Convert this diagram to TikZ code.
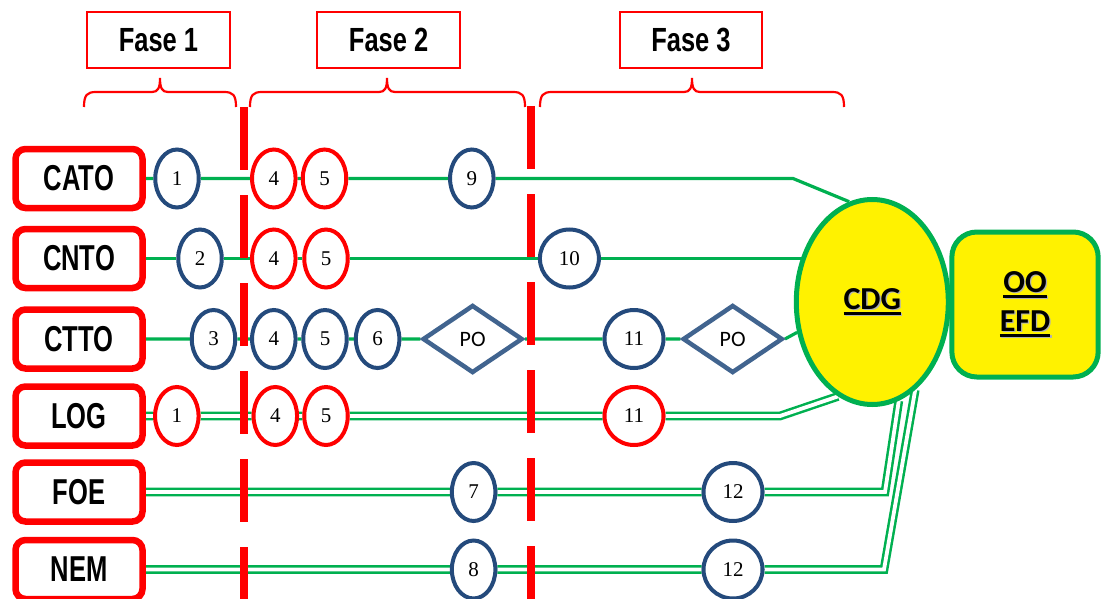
\documentclass[tikz,border=0pt]{standalone}
\usepackage{fontspec}
\setmainfont{Liberation Serif}
\newfontfamily\boxfont[FakeStretch=0.71]{Liberation Sans}
\newfontfamily\fasefont[FakeStretch=0.76]{Liberation Sans}
\newfontfamily\calib{Carlito}
\usetikzlibrary{shapes.geometric}
\pgfdeclarelayer{background}
\pgfsetlayers{background,main}
\definecolor{gr}{HTML}{00B050}
\definecolor{nv}{HTML}{244A7C}
\definecolor{dm}{HTML}{41648F}
\newcommand\myul[1]{\setbox0\hbox{#1}%
  \rlap{\hspace{1.3pt}\textcolor{black!30}{\rule[-6.8pt]{\wd0}{2.7pt}}}%
  \rlap{\raisebox{-1.3pt}{\hspace{1.3pt}\textcolor{black!30}{#1}}}%
  \rlap{\rule[-5.5pt]{\wd0}{2.7pt}}\box0}
\newcommand\phasebrace[3]{%
  \draw[brc] (#1,107) .. controls (#1,95) and ({#1+3},92) .. ({#1+12},92)
    -- ({#2-8},92) .. controls ({#2-2},92) and (#2,88) .. (#2,78)
    .. controls (#2,88) and ({#2+2},92) .. ({#2+8},92)
    -- ({#3-12},92) .. controls ({#3-3},92) and (#3,95) .. (#3,107);}
\begin{document}
\begin{tikzpicture}[x=1pt,y=-1pt,
  lbox/.style={draw=red, line width=6.5pt, rounded corners=10pt, fill=white,
    minimum width=127pt, minimum height=59pt, inner sep=0pt,
    font=\boxfont\bfseries\fontsize{36}{40}\selectfont},
  cnum/.style={ellipse, line width=4pt, fill=white, minimum width=43.5pt,
    minimum height=58pt, inner sep=0pt, font=\fontsize{21}{22}\selectfont},
  bc/.style={cnum, draw=nv},
  rc/.style={cnum, draw=red},
  wide/.style={minimum width=59pt, minimum height=58pt},
  po/.style={diamond, draw=dm, line width=4.5pt, fill=white, minimum width=100pt,
    minimum height=68pt, inner sep=0pt, font=\calib\fontsize{22}{24}\selectfont},
  gl/.style={draw=gr, line width=3.2pt},
  gd/.style={draw=gr, line width=2.5pt, double=white, double distance=3.8pt},
  fase/.style={draw=red, line width=2.2pt, fill=white, minimum width=142.5pt,
    minimum height=56pt, inner sep=0pt,
    font=\fasefont\bfseries\fontsize{33.5}{36}\selectfont},
  bar/.style={draw=red, line width=8pt, dash pattern=on 63pt off 25pt},
  brc/.style={draw=red, line width=2.2pt}]
\useasboundingbox (0,0) rectangle (1102,599);

% phase boxes and braces
\node[fase] (f1) at (158.5,39.7) {Fase 1};
\node[fase] (f2) at (388.6,39.7) {Fase 2};
\node[fase] (f3) at (691,39.7) {Fase 3};
\phasebrace{84}{160}{236}
\phasebrace{250}{387}{525}
\phasebrace{540}{692}{844}

% left boxes
\node[lbox] (cato) at (79,178.5) {CATO};
\node[lbox] (cnto) at (79,258.5) {CNTO};
\node[lbox] (ctto) at (79,339) {CTTO};
\node[lbox] (log) at (79,416) {LOG};
\node[lbox] (foe) at (79,492) {FOE};
\node[lbox] (nem) at (79,569.5) {NEM};

% row CATO
\node[bc] (a1) at (177,178.5) {1};
\node[rc] (a4) at (273.8,178.5) {4};
\node[rc] (a5) at (324.5,178.5) {5};
\node[bc] (a9) at (471.8,178.5) {9};
% row CNTO
\node[bc] (b2) at (200,258.5) {2};
\node[rc] (b4) at (273.8,258.5) {4};
\node[rc] (b5) at (326,258.5) {5};
\node[bc,wide] (b10) at (569.4,258.5) {10};
% row CTTO
\node[bc] (c3) at (213.5,339) {3};
\node[bc] (c4) at (273.8,339) {4};
\node[bc] (c5) at (325,339) {5};
\node[bc] (c6) at (377.6,339) {6};
\node[po] (p1) at (472.6,339) {PO};
\node[bc,wide] (c11) at (634,339) {11};
\node[po] (p2) at (732.7,339) {PO};
% row LOG
\node[rc] (d1) at (176.8,416) {1};
\node[rc] (d4) at (275.3,416) {4};
\node[rc] (d5) at (326,416) {5};
\node[rc,wide] (d11) at (634,416) {11};
% row FOE
\node[bc] (e7) at (473.6,492) {7};
\node[bc,wide] (e12) at (733,492) {12};
% row NEM
\node[bc] (f8) at (473.6,569.5) {8};
\node[bc,wide] (f12) at (733,569.5) {12};

% right side
\node[draw=gr, line width=5pt, fill=yellow, rounded corners=25pt,
  minimum width=146.3pt, minimum height=145pt, inner sep=0pt, align=center,
  font=\calib\bfseries\fontsize{32}{39}\selectfont] (oo) at (1025,304.5)
  {\myul{OO}\\\myul{EFD}};
\node[ellipse, draw=gr, line width=5pt, fill=yellow, minimum width=152pt,
  minimum height=205pt, inner sep=0pt,
  font=\calib\bfseries\fontsize{32}{36}\selectfont] (cdg) at (872.3,302)
  {\myul{CDG}};

\coordinate (kA) at (793,178.5);
\coordinate (kD) at (780,416);
\coordinate (kE) at (885,492);
\coordinate (kF) at (884,569.5);

% connectors
\begin{pgfonlayer}{background}
\draw[gl] (cato) -- (a1) -- (a4) -- (a5) -- (a9) -- (kA.center) -- (cdg.103.5);
\draw[gl] (cnto) -- (b2) -- (b4) -- (b5) -- (b10) -- (b10 -| cdg);
\draw[gl] (ctto) -- (c3) -- (c4) -- (c5) -- (c6) -- (p1) -- (c11) -- (p2)
  (p2.east) -- (cdg.202);
\draw[gd] (log) -- (d1) -- (d4) -- (d5) -- (d11) -- (kD.center) -- (cdg.250);
\draw[gd] (foe) -- (e7) -- (e12) -- (kE.center) -- (cdg.285);
\draw[gd] (nem) -- (f8) -- (f12) -- (kF.center) -- (cdg.296);
\end{pgfonlayer}

% phase separators
\draw[bar] (243.5,107) -- (243.5,610);
\draw[bar] (531,106) -- (531,610);
\end{tikzpicture}
\end{document}
